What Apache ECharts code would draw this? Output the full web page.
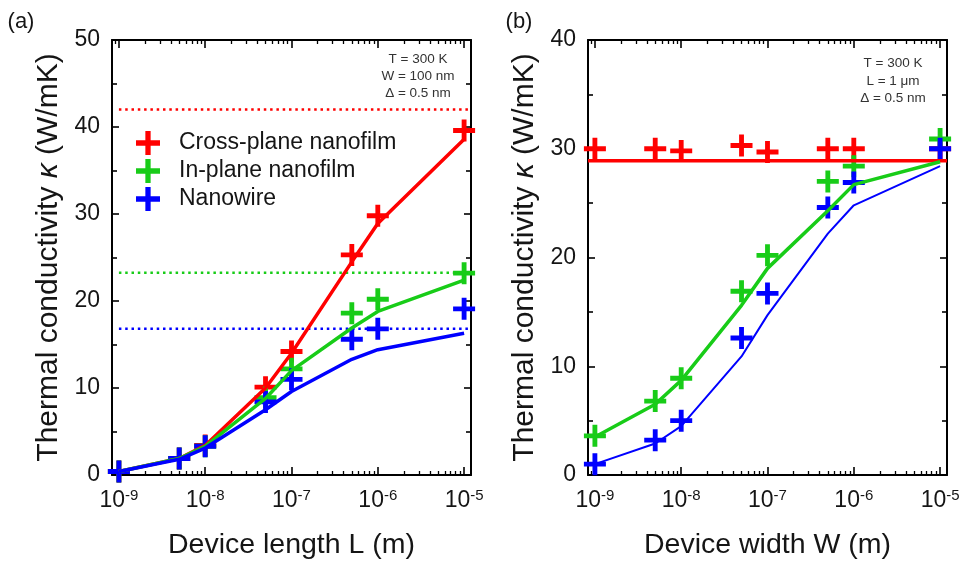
<!DOCTYPE html>
<html>
<head>
<meta charset="utf-8">
<script src="https://cdn.jsdelivr.net/npm/echarts@6/dist/echarts.min.js"></script>
<style>
html,body{margin:0;padding:0;background:#fff;}
#chart{width:966px;height:565px;}
</style>
</head>
<body>
<div id="chart"></div>
<script>
// ---------- data ----------
const deviceLength = [1e-9, 5e-9, 1e-8, 5e-8, 1e-7, 5e-7, 1e-6, 1e-5];
const deviceWidth  = [1e-9, 5e-9, 1e-8, 5e-8, 1e-7, 5e-7, 1e-6, 1e-5];

// panel (a): simulation crosses
const aCrossSim = [0.4, 1.9, 3.4, 10.1, 14.2, 25.3, 29.8, 39.6];
const aInSim    = [0.4, 1.9, 3.3, 8.9, 12.2, 18.6, 20.2, 23.2];
const aWireSim  = [0.4, 1.9, 3.3, 8.4, 11.0, 15.6, 16.8, 19.1];
// panel (a): model curves
const aCrossModel = [0.4, 1.9, 3.4, 10.0, 14.0, 24.5, 28.9, 38.6];
const aInModel    = [0.4, 1.9, 3.3, 8.8, 12.0, 16.9, 18.8, 22.4];
const aWireModel  = [0.4, 1.8, 3.1, 7.5, 9.6, 13.3, 14.4, 16.3];
// panel (a): bulk limits (dotted)
const aLimits = [42.0, 23.25, 16.8];

// panel (b): simulation crosses
const bCrossSim = [30.0, 30.0, 29.8, 30.3, 29.7, 30.0, 30.0, 30.0];
const bInSim    = [3.6, 6.8, 8.9, 16.9, 20.2, 27.0, 28.4, 30.9];
const bWireSim  = [1.0, 3.2, 5.0, 12.6, 16.7, 24.6, 26.9, 30.0];
// panel (b): model curves
const bCrossModel = 28.9;
const bInModel    = [3.5, 6.5, 8.7, 15.6, 19.0, 24.3, 26.7, 28.8];
const bWireModel  = [1.0, 2.9, 4.5, 10.9, 14.7, 22.2, 24.8, 28.4];

const seriesNames = ['Cross-plane nanofilm', 'In-plane nanofilm', 'Nanowire'];
const colors = ['#ff0000', '#18cc18', '#0000ff'];
const xMajorTicks = [1e-9, 1e-8, 1e-7, 1e-6, 1e-5];
const X_MIN = Math.pow(10, -9.08);
const X_MAX = Math.pow(10, -4.92);

// minor tick positions 2..9 x 10^n
const xMinorTicks = [];
for (let e = -10; e <= -5; e++) {
  for (let k = 2; k <= 9; k++) {
    const v = k * Math.pow(10, e);
    if (v > X_MIN && v < X_MAX) xMinorTicks.push(v);
  }
}

const FONT = '"Liberation Sans", Arial, sans-serif';
const BLACK = '#000';
const TXT = '#151515';
const PLUS = 'path://M39,0H61V39H100V61H61V100H39V61H0V39H39Z';

function pair(xs, ys) { return xs.map((x, i) => [x, ys[i]]); }

function xAxesFor(g, title) {
  const base = {
    type: 'log', logBase: 10, gridIndex: g, min: X_MIN, max: X_MAX,
    splitLine: {show: false}, minorSplitLine: {show: false},
    axisLine: {show: true, onZero: false, lineStyle: {color: BLACK, width: 2}}
  };
  return [
    Object.assign({}, base, {
      position: 'bottom',
      axisTick: {show: true, inside: true, length: 8, customValues: xMajorTicks, lineStyle: {color: BLACK, width: 1.6}},
      axisLabel: {
        customValues: xMajorTicks, margin: 13, color: TXT, fontFamily: FONT,
        formatter: v => '{b|10}{s|' + Math.round(Math.log10(v)) + '}',
        rich: {
          b: {fontSize: 23, lineHeight: 26, fontFamily: FONT, color: TXT},
          s: {fontSize: 15, lineHeight: 15, verticalAlign: 'top', fontFamily: FONT, color: TXT}
        }
      },
      name: title, nameLocation: 'middle', nameGap: 56,
      nameTextStyle: {fontSize: 28.5, color: TXT, fontFamily: FONT}
    }),
    Object.assign({}, base, {
      position: 'bottom', axisLine: {show: false, onZero: false},
      axisTick: {show: true, inside: true, length: 4, customValues: xMinorTicks, lineStyle: {color: BLACK, width: 1.3}},
      axisLabel: {show: false}
    }),
    Object.assign({}, base, {
      position: 'top',
      axisTick: {show: true, inside: true, length: 8, customValues: xMajorTicks, lineStyle: {color: BLACK, width: 1.6}},
      axisLabel: {show: false}
    }),
    Object.assign({}, base, {
      position: 'top', axisLine: {show: false, onZero: false},
      axisTick: {show: true, inside: true, length: 4, customValues: xMinorTicks, lineStyle: {color: BLACK, width: 1.3}},
      axisLabel: {show: false}
    })
  ];
}

function yAxesFor(g, yMax) {
  const base = {
    type: 'value', gridIndex: g, min: 0, max: yMax, interval: 10,
    splitLine: {show: false}, minorSplitLine: {show: false},
    axisLine: {show: true, onZero: false, lineStyle: {color: BLACK, width: 2}},
    axisTick: {show: true, inside: true, length: 7, lineStyle: {color: BLACK, width: 1.6}},
    minorTick: {show: true, splitNumber: 2, length: 5, lineStyle: {color: BLACK, width: 1.6}}
  };
  return [
    Object.assign({}, base, {
      position: 'left',
      axisLabel: {fontSize: 23, margin: 12, color: TXT, fontFamily: FONT},
      name: '{a|Thermal conductivity }{k|κ}{a| (W/mK)}',
      nameLocation: 'middle', nameGap: 48,
      nameTextStyle: {
        fontSize: 30, color: TXT, fontFamily: FONT,
        rich: {
          a: {fontSize: 30, color: TXT, fontFamily: FONT},
          k: {fontSize: 30, color: TXT, fontFamily: FONT, fontStyle: 'italic'}
        }
      }
    }),
    Object.assign({}, base, {position: 'right', axisLabel: {show: false}})
  ];
}

const xAxis = xAxesFor(0, 'Device length L (m)').concat(xAxesFor(1, 'Device width W (m)'));
const yAxis = yAxesFor(0, 50).concat(yAxesFor(1, 40));

const series = [];
// ----- panel (a) -----
aLimits.forEach((lim, i) => {
  series.push({
    type: 'line', xAxisIndex: 0, yAxisIndex: 0, symbol: 'none', silent: true,
    data: [[1e-9, lim], [X_MAX, lim]],
    lineStyle: {color: colors[i], width: 2.5, type: [2.5, 3.8]}
  });
});
[aCrossModel, aInModel, aWireModel].forEach((arr, i) => {
  series.push({
    type: 'line', name: seriesNames[i] + ' model', xAxisIndex: 0, yAxisIndex: 0,
    symbol: 'none', data: pair(deviceLength, arr),
    lineStyle: {color: colors[i], width: 3.5}
  });
});
[aCrossSim, aInSim, aWireSim].forEach((arr, i) => {
  series.push({
    type: 'scatter', name: seriesNames[i], xAxisIndex: 0, yAxisIndex: 0,
    symbol: PLUS, symbolSize: 22, clip: false, data: pair(deviceLength, arr),
    itemStyle: {color: colors[i], opacity: 1}
  });
});
// ----- panel (b) -----
series.push({
  type: 'line', name: seriesNames[0] + ' model b', xAxisIndex: 4, yAxisIndex: 2,
  symbol: 'none', data: [[X_MIN, bCrossModel], [X_MAX, bCrossModel]],
  lineStyle: {color: colors[0], width: 3.5}
});
series.push({
  type: 'line', name: seriesNames[1] + ' model b', xAxisIndex: 4, yAxisIndex: 2,
  symbol: 'none', data: pair(deviceWidth, bInModel),
  lineStyle: {color: colors[1], width: 3.5}
});
series.push({
  type: 'line', name: seriesNames[2] + ' model b', xAxisIndex: 4, yAxisIndex: 2,
  symbol: 'none', data: pair(deviceWidth, bWireModel),
  lineStyle: {color: colors[2], width: 2}
});
[bCrossSim, bInSim, bWireSim].forEach((arr, i) => {
  series.push({
    type: 'scatter', name: seriesNames[i], xAxisIndex: 4, yAxisIndex: 2,
    symbol: PLUS, symbolSize: 22, clip: false, data: pair(deviceWidth, arr),
    itemStyle: {color: colors[i], opacity: 1}
  });
});

function txt(text, x, y, size, extra) {
  return {
    type: 'text', x: x, y: y, silent: true,
    style: Object.assign({
      text: text, fontSize: size, fontFamily: FONT, fill: '#333',
      textAlign: 'center', textVerticalAlign: 'middle'
    }, extra || {})
  };
}

const option = {
  animation: false,
  backgroundColor: '#fff',
  grid: [
    {left: 112, top: 40, width: 359, height: 438, containLabel: false},
    {left: 588, top: 40, width: 359, height: 438, containLabel: false}
  ],
  xAxis: xAxis,
  yAxis: yAxis,
  legend: {
    data: seriesNames, orient: 'vertical', left: 136, top: 131,
    icon: PLUS, itemWidth: 24, itemHeight: 24, itemGap: 4,
    padding: 0, selectedMode: false,
    itemStyle: {opacity: 1},
    textStyle: {fontSize: 23, color: TXT, fontFamily: FONT, padding: [0, 0, 0, 14]}
  },
  graphic: [
    txt('T = 300 K', 418, 59, 13.5),
    txt('W = 100 nm', 418, 76, 13.5),
    txt('Δ = 0.5 nm', 418, 93, 13.5),
    txt('T = 300 K', 893, 63, 13.5),
    txt('L = 1 μm', 893, 81, 13.5),
    txt('Δ = 0.5 nm', 893, 98, 13.5),
    txt('(a)', 21, 22, 22, {fill: TXT}),
    txt('(b)', 519, 22, 22, {fill: TXT})
  ],
  series: series
};

const chart = echarts.init(document.getElementById('chart'), null, {renderer: 'canvas'});
chart.setOption(option);
</script>
</body>
</html>
